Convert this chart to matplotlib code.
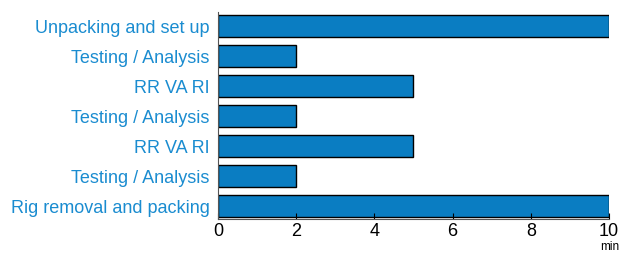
import numpy as np
import matplotlib.pyplot as plt

plt.rcParams['font.family'] = ['Liberation Sans', 'DejaVu Sans']

tasks = ["Unpacking and set up", "Testing / Analysis", "RR VA RI", "Testing / Analysis",
         "RR VA RI", "Testing / Analysis", "Rig removal and packing"]
minutes = [10, 2, 5, 2, 5, 2, 10]

fig = plt.figure(figsize=(6.22, 2.54), dpi=100)
ax = fig.add_axes([0.3505, 0.138, 0.6285, 0.815])

y = np.arange(len(tasks))
ax.barh(y, minutes, height=0.73, color='#0a7dc2', edgecolor='black', linewidth=1.0)
ax.set_yticks(y)
ax.set_yticklabels(tasks, color='#1a8cd0', fontsize=13)
ax.set_ylim(len(tasks) - 0.57, -0.47)
ax.set_xlim(0, 10)
ax.set_xticks([0, 2, 4, 6, 8, 10])
ax.tick_params(axis='x', direction='in', length=4, labelsize=13, pad=3)
ax.tick_params(axis='y', length=0, pad=6)
for s in ['top', 'right']:
    ax.spines[s].set_visible(False)
ax.spines['left'].set_color('#555555')
ax.spines['bottom'].set_color('#555555')
fig.text(0.981, 0.005, "min", ha='center', va='bottom', fontsize=8.5)

fig.savefig('out.png', dpi=100)
